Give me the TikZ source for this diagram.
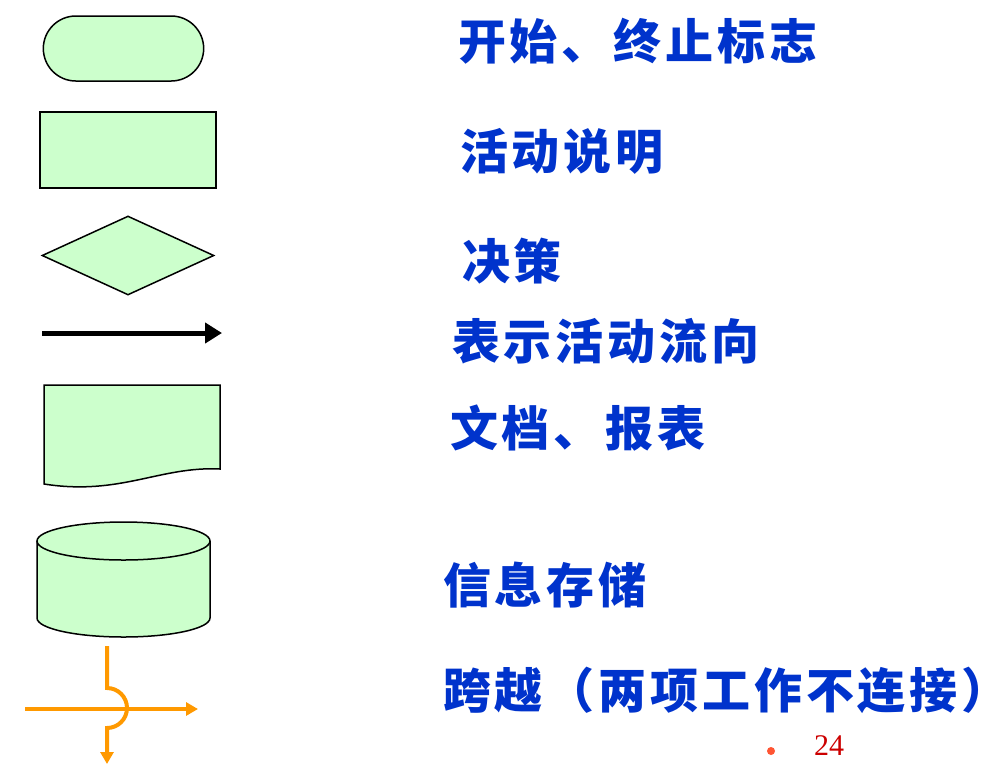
\documentclass[tikz,border=0pt]{standalone}
\usepackage{fontspec}
\newfontfamily\cjk{Noto Sans CJK SC}[LetterSpace=8]
\newfontfamily\numfont{Liberation Serif}
\usetikzlibrary{arrows.meta,positioning,shapes.geometric,shapes.misc}
\definecolor{symgreen}{RGB}{204,255,204}
\definecolor{textblue}{RGB}{0,51,204}
\definecolor{crossorange}{RGB}{255,153,0}
\definecolor{pagered}{RGB}{204,0,0}
\definecolor{dotred}{RGB}{255,85,51}

\begin{document}
\begin{tikzpicture}[x=1pt, y=-1pt,
    sym/.style={draw, fill=symgreen, line width=1.5pt},
    symtext/.style={anchor=west, inner sep=0pt, text=textblue, font=\cjk\bfseries\fontsize{48}{56}\selectfont},
    flow/.style={-{Triangle[length=17pt, width=20pt]}, line width=5pt},
    cross/.style={crossorange, line width=4pt, -{Triangle[length=12pt, width=13pt]}}
]
\useasboundingbox (0,0) rectangle (987,764);
% symbols
\node[sym, rounded rectangle, minimum width=167pt, minimum height=65pt] (terminal) at (123.5,48.5) {};
\node[sym, rectangle, minimum width=176pt, minimum height=76pt] (activity) at (128,150) {};
\node[sym, diamond, inner sep=0pt, minimum width=172pt, minimum height=79pt] (decision) at (128,255.5) {};
\coordinate (flowA) at (42,333);
\coordinate (flowB) at (222,333);
\draw[flow] (flowA) -- (flowB);
% document
\draw[sym] (44,385) -- (220,385) -- (220,469) .. controls (160,466) and (120,496) .. (44,484) -- cycle;
% storage
\draw[sym] (37,541) -- (37,618) arc[start angle=180, end angle=0, x radius=86.5, y radius=19] -- (210,541);
\draw[sym] (123.5,541) ellipse[x radius=86.5, y radius=19];
% crossing
\coordinate (vtop) at (107,646);
\coordinate (vjump) at (107,688);
\coordinate (vend) at (107,764);
\coordinate (hstart) at (25,709);
\coordinate (hend) at (198,709);
\draw[cross] (hstart) -- (hend);
\draw[cross] (vtop) -- (vjump) arc[start angle=270, end angle=450, radius=20] -- (vend);
% labels
\node[symtext] (lblterminal) at (458,41) {开始、终止标志};
\node[symtext] (lblactivity) at (460,151) {活动说明};
\node[symtext] (lbldecision) at (462,261) {决策};
\node[symtext] (lblflow) at (452,341) {表示活动流向};
\node[symtext] (lbldocument) at (450,428) {文档、报表};
\node[symtext] (lblstorage) at (443,585) {信息存储};
\node[symtext] (lblcross) at (443,690) {跨越（两项工作不连接）};
\node[circle, fill=dotred, inner sep=0pt, minimum size=8pt] (dot) at (771,751) {};
\node[anchor=west, inner sep=0pt, text=pagered, font=\numfont\fontsize{30}{32}\selectfont] (pagenum) at (814,746) {24};
\end{tikzpicture}
\end{document}
